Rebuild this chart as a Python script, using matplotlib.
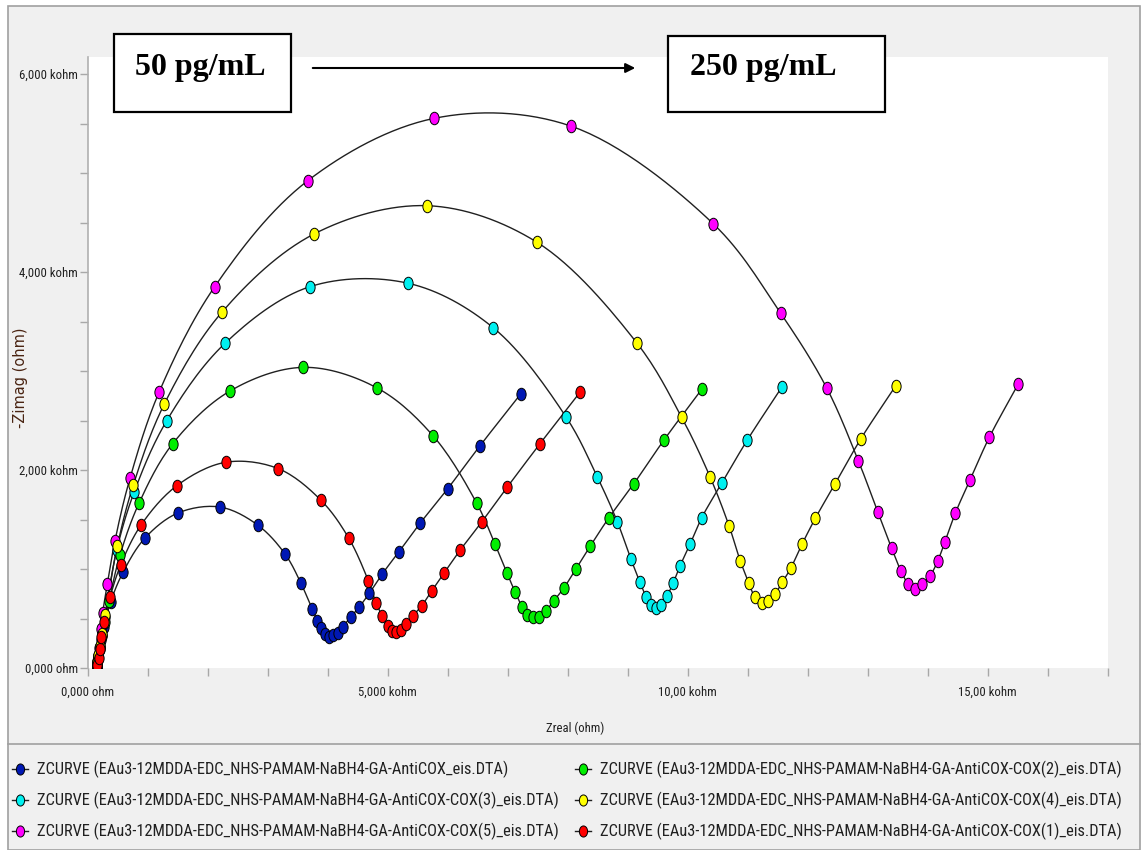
import numpy as np
import matplotlib
matplotlib.use("Agg")
import matplotlib.pyplot as plt
from matplotlib import font_manager as fm
from matplotlib.font_manager import FontProperties
from matplotlib.path import Path
from matplotlib.patches import Rectangle, FancyArrowPatch
from matplotlib.lines import Line2D
from matplotlib.ticker import MultipleLocator, FixedLocator, FixedFormatter

# Nyquist data, Zreal / -Zimag in kohm
zre_blue = [150, 165, 180, 200, 228, 275, 387, 597, 958, 1508, 2208, 2837, 3292, 3553, 3742,
            3830, 3892, 3958, 4030, 4097, 4170, 4253, 4387, 4525, 4697, 4908, 5192, 5547,
            6003, 6542, 7220]
zim_blue = [15, 60, 120, 190, 285, 414, 670, 973, 1313, 1566, 1626, 1444, 1152, 862, 599,
            478, 407, 343, 316, 330, 357, 417, 515, 613, 755, 946, 1175, 1465,
            1811, 2245, 2768]

zre_red = [150, 163, 187, 208, 230, 280, 375, 553, 892, 1487, 2303, 3175, 3887, 4353, 4680,
           4808, 4913, 5003, 5070, 5142, 5220, 5308, 5420, 5570, 5737, 5947, 6213, 6570,
           6997, 7542, 8208]
zim_red = [10, 30, 98, 192, 310, 468, 714, 1040, 1444, 1841, 2078, 2015, 1697, 1313, 882,
           660, 525, 427, 377, 367, 384, 441, 525, 629, 778, 963, 1192, 1475,
           1828, 2266, 2785]

zre_green = [150, 165, 182, 205, 235, 285, 360, 542, 858, 1420, 2375, 3597, 4820, 5763, 6487,
             6792, 6987, 7130, 7247, 7330, 7420, 7520, 7642, 7775, 7942, 8137, 8380, 8687,
             9103, 9608, 10237]
zim_green = [12, 55, 125, 210, 320, 460, 680, 1141, 1664, 2266, 2798, 3037, 2831, 2343, 1664,
             1250, 963, 765, 613, 532, 515, 512, 579, 680, 811, 997, 1232, 1515,
             1859, 2303, 2815]

zre_cyan = [150, 165, 182, 205, 235, 290, 487, 780, 1320, 2292, 3708, 5347, 6763, 7980, 8495,
            8830, 9058, 9208, 9308, 9387, 9470, 9558, 9658, 9763, 9875, 10042, 10237, 10570,
            10997, 11570]
zim_cyan = [12, 55, 125, 215, 335, 520, 1192, 1781, 2498, 3280, 3852, 3886, 3437, 2532, 1932,
            1478, 1098, 866, 720, 636, 609, 636, 727, 862, 1030, 1250, 1518, 1866,
            2303, 2835]

zre_yellow = [150, 165, 182, 205, 235, 295, 497, 763, 1280, 2247, 3775, 5663, 7485, 9160, 9903,
              10375, 10692, 10880, 11025, 11125, 11237, 11347, 11458, 11580, 11720, 11908,
              12130, 12458, 12887, 13467]
zim_yellow = [12, 58, 130, 220, 345, 540, 1232, 1848, 2667, 3599, 4384, 4670, 4303, 3280, 2532,
              1932, 1437, 1081, 856, 714, 660, 680, 747, 866, 1007, 1249,
              1512, 1859, 2313, 2848]

zre_magenta = [150, 165, 185, 220, 253, 330, 458, 708, 1192, 2120, 3670, 5775, 8053, 10433,
               11553, 12318, 12847, 13170, 13403, 13558, 13680, 13797, 13913, 14042, 14170,
               14292, 14463, 14708, 15030, 15513]
zim_magenta = [12, 70, 200, 391, 559, 848, 1286, 1916, 2785, 3852, 4922, 5552, 5475, 4485,
               3583, 2831, 2094, 1579, 1209, 980, 848, 795, 845, 929, 1081,
               1276, 1563, 1899, 2330, 2869]

labels = [
    "ZCURVE (EAu3-12MDDA-EDC_NHS-PAMAM-NaBH4-GA-AntiCOX_eis.DTA)",
    "ZCURVE (EAu3-12MDDA-EDC_NHS-PAMAM-NaBH4-GA-AntiCOX-COX(3)_eis.DTA)",
    "ZCURVE (EAu3-12MDDA-EDC_NHS-PAMAM-NaBH4-GA-AntiCOX-COX(5)_eis.DTA)",
    "ZCURVE (EAu3-12MDDA-EDC_NHS-PAMAM-NaBH4-GA-AntiCOX-COX(2)_eis.DTA)",
    "ZCURVE (EAu3-12MDDA-EDC_NHS-PAMAM-NaBH4-GA-AntiCOX-COX(4)_eis.DTA)",
    "ZCURVE (EAu3-12MDDA-EDC_NHS-PAMAM-NaBH4-GA-AntiCOX-COX(1)_eis.DTA)",
]
series = [
    (zre_blue, zim_blue, "#0018b4"),
    (zre_cyan, zim_cyan, "#00f0f0"),
    (zre_magenta, zim_magenta, "#ff00ff"),
    (zre_green, zim_green, "#00ee00"),
    (zre_yellow, zim_yellow, "#ffff00"),
    (zre_red, zim_red, "#ff0000"),
]

x_ticks_major = [0, 5000, 10000, 15000]
x_tick_labels = ["0,000 ohm", "5,000 kohm", "10,00 kohm", "15,00 kohm"]
y_ticks_major = [0, 2000, 4000, 6000]
y_tick_labels = ["0,000 ohm", "2,000 kohm", "4,000 kohm", "6,000 kohm"]

SERIF = ["Liberation Serif", "DejaVu Serif"]
W, H = 1144, 850


def fx(px):
    return px / W


def fy(py):
    return 1 - py / H


def pick_narrow_font():
    """Find a narrow / condensed sans face if one is installed."""
    wanted = ["Liberation Sans Narrow", "Arial Narrow", "Roboto Condensed",
              "DejaVu Sans Condensed", "Open Sans Condensed", "Noto Sans Condensed"]
    entries = fm.fontManager.ttflist
    for name in wanted:
        for f in entries:
            if f.name == name and f.weight in (400, "normal", "regular") and f.style == "normal":
                return FontProperties(fname=f.fname)
    for f in entries:
        fname = f.fname.lower()
        if (("narrow" in fname or "condensed" in fname) and "bold" not in fname
                and "italic" not in fname and "oblique" not in fname
                and "light" not in fname and "mono" not in fname and "serif" not in fname.replace("sans", "")):
            return FontProperties(fname=f.fname)
    return None


NARROW_FP = pick_narrow_font()


def narrow(size):
    if NARROW_FP is None:
        p = FontProperties(family="DejaVu Sans")
    else:
        p = NARROW_FP.copy()
    p.set_size(size)
    return p


def catmull_rom(x, y, yscale, n=16):
    """Centripetal Catmull-Rom curve through the measured points."""
    pts = np.column_stack([np.asarray(x, float), np.asarray(y, float) * yscale])
    P = np.vstack([2 * pts[0] - pts[1], pts, 2 * pts[-1] - pts[-2]])
    out = []
    for i in range(1, len(P) - 2):
        p0, p1, p2, p3 = P[i - 1], P[i], P[i + 1], P[i + 2]

        def knot(t, a, b):
            return t + max(np.hypot(*(b - a)), 1e-9) ** 0.5

        t0 = 0.0
        t1 = knot(t0, p0, p1)
        t2 = knot(t1, p1, p2)
        t3 = knot(t2, p2, p3)
        t = np.linspace(t1, t2, n, endpoint=False)[:, None]
        a1 = (t1 - t) / (t1 - t0) * p0 + (t - t0) / (t1 - t0) * p1
        a2 = (t2 - t) / (t2 - t1) * p1 + (t - t1) / (t2 - t1) * p2
        a3 = (t3 - t) / (t3 - t2) * p2 + (t - t2) / (t3 - t2) * p3
        b1 = (t2 - t) / (t2 - t0) * a1 + (t - t0) / (t2 - t0) * a2
        b2 = (t3 - t) / (t3 - t1) * a2 + (t - t1) / (t3 - t1) * a3
        c = (t2 - t) / (t2 - t1) * b1 + (t - t1) / (t2 - t1) * b2
        out.append(c)
    out.append(pts[-1:])
    out = np.vstack(out)
    return out[:, 0], out[:, 1] / yscale


# tall elliptical marker
circ = Path.unit_circle()
ellipse = Path(circ.vertices * np.array([0.74, 1.0]), circ.codes)

fig = plt.figure(figsize=(W / 100, H / 100), dpi=100)
fig.patch.set_facecolor("white")
renderer = fig.canvas.get_renderer()


def fit_size(text, target_px, base=12.0):
    t = fig.text(0, 0, text, fontproperties=narrow(base))
    w = t.get_window_extent(renderer).width
    t.remove()
    return base * target_px / w


legend_size = min(fit_size(labels[0], 472), 13.5)
tick_size = min(fit_size("6,000 kohm", 58), 9.5)
axlabel_size = min(fit_size("Zreal (ohm)", 58), 9.5)

# window frame and panel
fig.patches.append(Rectangle((fx(8), fy(850)), fx(1140) - fx(8), fy(6) - fy(850),
                             transform=fig.transFigure, facecolor="#f0f0f0",
                             edgecolor="#a0a0a0", linewidth=1.2, zorder=-5))
fig.add_artist(Line2D([fx(8), fx(1140)], [fy(744), fy(744)], color="#a0a0a0",
                      linewidth=1.2, transform=fig.transFigure))

ax = fig.add_axes([fx(87.5), fy(668), fx(1107.5) - fx(87.5), fy(57) - fy(668)])
ax.set_facecolor("white")
ax.set_xlim(0, 17000)
ax.set_ylim(0, 6172)

yscale = 0.099 / 0.06
for xs, ys, col in series:
    sx, sy = catmull_rom(xs, ys, yscale)
    ax.plot(sx, sy, color="#202020", linewidth=1.0, zorder=2)
for xs, ys, col in series:
    ax.plot(xs, ys, linestyle="none", marker=ellipse, markersize=9.0,
            markerfacecolor=col, markeredgecolor="black", markeredgewidth=0.7, zorder=3)

ax.xaxis.set_major_locator(FixedLocator(x_ticks_major))
ax.xaxis.set_major_formatter(FixedFormatter(x_tick_labels))
ax.xaxis.set_minor_locator(MultipleLocator(1000))
ax.yaxis.set_major_locator(FixedLocator(y_ticks_major))
ax.yaxis.set_major_formatter(FixedFormatter(y_tick_labels))
ax.yaxis.set_minor_locator(MultipleLocator(500))
ax.tick_params(which="both", direction="out", color="#a8a8a8", length=6, width=1.0)
ax.tick_params(axis="both", which="major", labelcolor="#202020")
ax.tick_params(axis="y", pad=1)
ax.tick_params(axis="x", pad=7)
for lab in ax.get_xticklabels() + ax.get_yticklabels():
    lab.set_fontproperties(narrow(tick_size))
for side in ["top", "right", "bottom"]:
    ax.spines[side].set_visible(False)
ax.spines["left"].set_color("#b0b0b0")
ax.spines["left"].set_linewidth(1.2)

fig.text(fx(575), fy(728), "Zreal (ohm)", ha="center", va="center",
         fontproperties=narrow(axlabel_size), color="#202020")
fig.text(fx(21), fy(378), "-Zimag (ohm)", ha="center", va="center", rotation=90,
         fontsize=10.5, family=["DejaVu Sans"], color="#4a2412")

# concentration boxes and arrow
fig.patches.append(Rectangle((fx(114), fy(112)), fx(291) - fx(114), fy(34) - fy(112),
                             transform=fig.transFigure, facecolor="white",
                             edgecolor="black", linewidth=1.6, zorder=10))
fig.patches.append(Rectangle((fx(668), fy(112)), fx(885) - fx(668), fy(36) - fy(112),
                             transform=fig.transFigure, facecolor="white",
                             edgecolor="black", linewidth=1.6, zorder=10))
fig.text(fx(135), fy(68), "50 pg/mL", ha="left", va="center", fontsize=23,
         fontweight="bold", family=SERIF, zorder=11)
fig.text(fx(690), fy(68), "250 pg/mL", ha="left", va="center", fontsize=23,
         fontweight="bold", family=SERIF, zorder=11)
fig.add_artist(FancyArrowPatch((fx(310), fy(68)), (fx(638), fy(68)),
                               transform=fig.transFigure, arrowstyle="-|>",
                               mutation_scale=14, color="black", linewidth=1.5, zorder=11))

# legend, two columns of three rows
row_y = [769, 800, 831]
col_x = [20, 583]
for i, ((xs, ys, col), lab) in enumerate(zip(series, labels)):
    cx = col_x[i // 3]
    ry = row_y[i % 3]
    fig.add_artist(Line2D([fx(cx - 8), fx(cx + 8)], [fy(ry), fy(ry)], color="#202020",
                          linewidth=1.0, transform=fig.transFigure))
    fig.add_artist(Line2D([fx(cx)], [fy(ry)], marker=ellipse, markersize=8.0,
                          markerfacecolor=col, markeredgecolor="black",
                          markeredgewidth=0.7, linestyle="none",
                          transform=fig.transFigure))
    fig.text(fx(cx + 17), fy(ry), lab, ha="left", va="center",
             fontproperties=narrow(legend_size), color="#202020")

fig.savefig("out.png", dpi=100, facecolor=fig.get_facecolor())
